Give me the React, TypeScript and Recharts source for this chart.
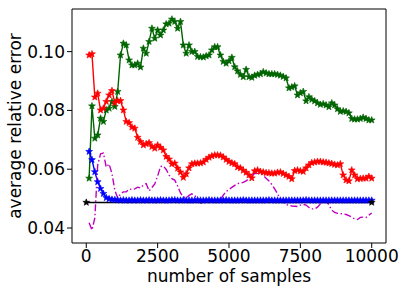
import { LineChart, Line, XAxis, YAxis, ReferenceLine } from 'recharts';

// sample counts on the x axis (every 100 samples)
const samples = Array.from({ length: 100 }, (_, i) => (i + 1) * 100);

const xTicks = [0, 2500, 5000, 7500, 10000];
const yTicks = [0.04, 0.06, 0.08, 0.1];
const xDomain = [-500, 10500];
const yDomain = [0.0349, 0.1145];

const greenErr = [
  0.0569, 0.0815, 0.0705, 0.0716, 0.0773, 0.0762, 0.0801, 0.0807, 0.083, 0.0813,
  0.0864, 0.0988, 0.1028, 0.1022, 0.0971, 0.0954, 0.0954, 0.096, 0.0947, 0.1011,
  0.0994, 0.1034, 0.1079, 0.1045, 0.1073, 0.1056, 0.1073, 0.1094, 0.1096, 0.111,
  0.1102, 0.1079, 0.1102, 0.1022, 0.0994, 0.1022, 0.1, 0.1, 0.0983, 0.0982,
  0.0981, 0.0985, 0.0988, 0.1005, 0.1016, 0.1016, 0.0988, 0.0966, 0.096, 0.0968,
  0.098, 0.0948, 0.0934, 0.0922, 0.0914, 0.0939, 0.0914, 0.0912, 0.0919, 0.0922,
  0.0924, 0.0931, 0.0927, 0.0924, 0.0924, 0.0924, 0.0922, 0.0919, 0.0915, 0.091,
  0.0876, 0.0879, 0.0883, 0.0852, 0.0859, 0.0864, 0.0832, 0.0846, 0.0837, 0.0832,
  0.0825, 0.082, 0.0822, 0.0818, 0.0812, 0.0825, 0.0818, 0.0805, 0.0796, 0.0798,
  0.0796, 0.0791, 0.0772, 0.077, 0.077, 0.0772, 0.0776, 0.0772, 0.0767, 0.0767,
];

const redErr = [
  0.0988, 0.0992, 0.0845, 0.0858, 0.0801, 0.0807, 0.083, 0.0852, 0.0867, 0.0826,
  0.0833, 0.0833, 0.0801, 0.0762, 0.0758, 0.0743, 0.0739, 0.0708, 0.0694, 0.0682,
  0.0686, 0.069, 0.0677, 0.0671, 0.0682, 0.0674, 0.0665, 0.0643, 0.0634, 0.0618,
  0.062, 0.0603, 0.059, 0.0572, 0.0584, 0.0604, 0.0618, 0.062, 0.062, 0.0621,
  0.0624, 0.0633, 0.064, 0.0645, 0.0648, 0.0648, 0.0647, 0.0641, 0.0633, 0.0626,
  0.0621, 0.0618, 0.0607, 0.0604, 0.0596, 0.0589, 0.058, 0.057, 0.0594, 0.0597,
  0.0592, 0.059, 0.0588, 0.0587, 0.0586, 0.0586, 0.0589, 0.059, 0.0585, 0.058,
  0.0575, 0.0567, 0.0595, 0.0597, 0.0594, 0.0592, 0.0604, 0.0614, 0.0622, 0.0624,
  0.0626, 0.0626, 0.0624, 0.0623, 0.0621, 0.0619, 0.0616, 0.0614, 0.0618, 0.058,
  0.0563, 0.056, 0.0597, 0.058, 0.0567, 0.0568, 0.0569, 0.0569, 0.0575, 0.0569,
];

const blueErr = [
  0.066, 0.0632, 0.0591, 0.0557, 0.0534, 0.0517, 0.0503, 0.0499, 0.0497, 0.0496,
  0.0495, 0.0494, 0.0495, 0.0494, 0.0494, 0.0495, 0.0494, 0.0494, 0.0495, 0.0494,
  0.0494, 0.0495, 0.0494, 0.0494, 0.0494, 0.0495, 0.0494, 0.0494, 0.0494, 0.0495,
  0.0495, 0.0494, 0.0494, 0.0495, 0.0494, 0.0494, 0.0494, 0.0494, 0.0495, 0.0494,
  0.0494, 0.0494, 0.0495, 0.0494, 0.0494, 0.0494, 0.0494, 0.0494, 0.0495, 0.0494,
  0.0494, 0.0494, 0.0494, 0.0494, 0.0495, 0.0494, 0.0494, 0.0494, 0.0494, 0.0494,
  0.0494, 0.0494, 0.0494, 0.0495, 0.0494, 0.0494, 0.0494, 0.0494, 0.0494, 0.0494,
  0.0494, 0.0494, 0.0494, 0.0494, 0.0494, 0.0494, 0.0495, 0.0494, 0.0494, 0.0494,
  0.0494, 0.0494, 0.0494, 0.0494, 0.0494, 0.0494, 0.0494, 0.0494, 0.0494, 0.0494,
  0.0494, 0.0494, 0.0494, 0.0494, 0.0494, 0.0494, 0.0494, 0.0494, 0.0494, 0.0494,
];

const magentaErr = [
  0.0418, 0.0393, 0.0434, 0.0614, 0.0652, 0.0655, 0.0607, 0.0618, 0.0585, 0.0529,
  0.0502, 0.0516, 0.0523, 0.0523, 0.0533, 0.0531, 0.0533, 0.0539, 0.0536, 0.0546,
  0.0551, 0.0526, 0.0538, 0.055, 0.0577, 0.0609, 0.0611, 0.0599, 0.058, 0.0568,
  0.0563, 0.0543, 0.0519, 0.0506, 0.0502, 0.0511, 0.0516, 0.0511, 0.0499, 0.0485,
  0.0489, 0.0494, 0.0495, 0.0495, 0.0495, 0.0499, 0.0497, 0.0512, 0.0524, 0.0531,
  0.0538, 0.0545, 0.0551, 0.0553, 0.0555, 0.056, 0.0568, 0.0579, 0.0585, 0.0586,
  0.0586, 0.0579, 0.0569, 0.056, 0.0548, 0.0533, 0.0517, 0.0497, 0.0488, 0.048,
  0.0477, 0.0475, 0.0474, 0.0473, 0.0478, 0.048, 0.0478, 0.047, 0.0465, 0.0465,
  0.0471, 0.0482, 0.0499, 0.0494, 0.0478, 0.0461, 0.0453, 0.045, 0.0449, 0.0448,
  0.0446, 0.0442, 0.0437, 0.0431, 0.0429, 0.0436, 0.0437, 0.0436, 0.0444, 0.0451,
];

// baseline: only the two end points are marked
const baselineX = [0, 10000];
const baselineErr = [0.0487, 0.0487];

const toPoints = (xs: number[], ys: number[]) => ys.map((y, i) => ({ x: xs[i], y }));

const greenData = toPoints(samples, greenErr);
const redData = toPoints(samples, redErr);
const blueData = toPoints(samples, blueErr);
const magentaData = toPoints(samples, magentaErr);
const baselineData = toPoints(baselineX, baselineErr);

const FONT = 'DejaVu Sans, sans-serif';
const FS = 17;

function starPath(cx: number, cy: number, R = 3.6, r = 1.5) {
  let d = '';
  for (let i = 0; i < 10; i++) {
    const a = -Math.PI / 2 + (i * Math.PI) / 5;
    const rad = i % 2 === 0 ? R : r;
    d += `${i === 0 ? 'M' : 'L'}${(cx + rad * Math.cos(a)).toFixed(2)},${(cy + rad * Math.sin(a)).toFixed(2)}`;
  }
  return d + 'Z';
}

const starDot = (color: string, id: string) => (props: any) => {
  const { cx, cy, index } = props;
  if (cx == null || cy == null) return <g key={`${id}-${index}`} />;
  return <path key={`${id}-${index}`} d={starPath(cx, cy)} fill={color} stroke={color} strokeWidth={0.6} />;
};

const tickStyle = { fill: '#000', fontSize: FS, fontFamily: FONT };

export default function App() {
  return (
    <div style={{ position: 'absolute', left: 0, top: 0, background: '#fff' }}>
      <LineChart width={407} height={294} margin={{ top: 9, right: 21, bottom: 0, left: 0 }} style={{ fontFamily: FONT }}>
        <XAxis
          type="number"
          dataKey="x"
          domain={xDomain}
          ticks={xTicks}
          allowDataOverflow
          height={51}
          tick={tickStyle}
          tickSize={5}
          tickMargin={2}
          stroke="#000"
          axisLine={{ stroke: '#000', strokeWidth: 1 }}
          tickLine={{ stroke: '#000' }}
          label={(p: any) => {
            const vb = p?.viewBox ?? { x: 72, width: 314 };
            return (
              <text x={vb.x + vb.width / 2} y={282} textAnchor="middle" fill="#000" fontSize={FS} fontFamily={FONT}>
                number of samples
              </text>
            );
          }}
        />
        <YAxis
          type="number"
          domain={yDomain}
          ticks={yTicks}
          allowDataOverflow
          width={72}
          tick={tickStyle}
          tickSize={5}
          tickMargin={2}
          tickFormatter={(v: number) => v.toFixed(2)}
          axisLine={{ stroke: '#000', strokeWidth: 1 }}
          tickLine={{ stroke: '#000' }}
          label={() => (
            <text x={15} y={126} transform="rotate(-90 15 126)" textAnchor="middle" dominantBaseline="central" fill="#000" fontSize={FS} fontFamily={FONT}>
              average relative error
            </text>
          )}
        />

        {/* top / right spines */}
        <ReferenceLine y={yDomain[1]} stroke="#000" strokeWidth={1} ifOverflow="extendDomain" />
        <ReferenceLine x={xDomain[1]} stroke="#000" strokeWidth={1} ifOverflow="extendDomain" />

        <Line data={greenData} dataKey="y" type="linear" stroke="#006400" strokeWidth={1.4} dot={starDot('#006400', 'g')} isAnimationActive={false} />
        <Line data={redData} dataKey="y" type="linear" stroke="#ff0000" strokeWidth={1.4} dot={starDot('#ff0000', 'r')} isAnimationActive={false} />
        <Line data={blueData} dataKey="y" type="linear" stroke="#0000ff" strokeWidth={1.4} dot={starDot('#0000ff', 'b')} isAnimationActive={false} />
        <Line data={magentaData} dataKey="y" type="linear" stroke="#bf00bf" strokeWidth={1.4} strokeDasharray="7 2.5 1.5 2.5" dot={false} isAnimationActive={false} />
        <Line data={baselineData} dataKey="y" type="linear" stroke="#000" strokeWidth={1.4} dot={starDot('#000', 'k')} isAnimationActive={false} />
      </LineChart>
    </div>
  );
}
